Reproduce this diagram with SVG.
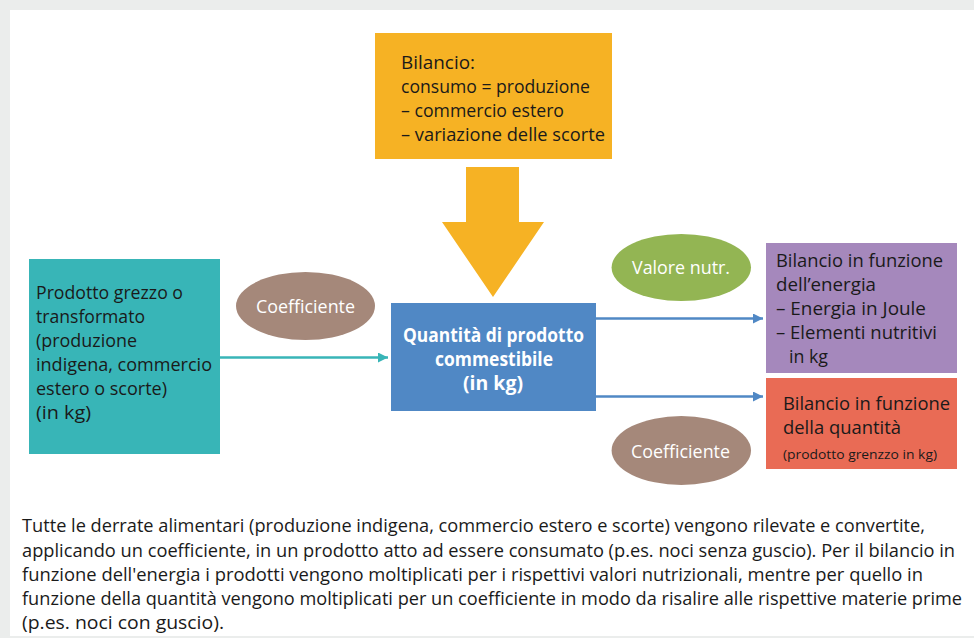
<svg xmlns="http://www.w3.org/2000/svg" width="974" height="638" viewBox="0 0 974 638">
<defs>
<style>
text{font-family:"Open Sans","Noto Sans","Liberation Sans",sans-serif;}
.t{font-size:19px;fill:#1a1a1a;}
.w{font-size:19px;fill:#ffffff;}
.b{font-size:19px;fill:#ffffff;font-weight:bold;}
.s{font-size:13.5px;fill:#1a1a1a;}
.p{font-size:17.5px;fill:#1a1a1a;}
</style>
<marker id="ahT" viewBox="0 0 10 10" refX="10" refY="5" markerWidth="5" markerHeight="4" orient="auto" markerUnits="strokeWidth"><path d="M0,0 L10,5 L0,10 z" fill="#38B5B7"/></marker>
<marker id="ahB" viewBox="0 0 10 10" refX="10" refY="5" markerWidth="5" markerHeight="4" orient="auto" markerUnits="strokeWidth"><path d="M0,0 L10,5 L0,10 z" fill="#5088C5"/></marker>
</defs>
<rect x="0" y="0" width="974" height="638" fill="#EBEDEC"/>
<rect x="10" y="10" width="964" height="626" fill="#ffffff"/>

<g id="connectors">
<line x1="220" y1="357.5" x2="388" y2="357.5" stroke="#38B5B7" stroke-width="2.5" marker-end="url(#ahT)"/>
<line x1="596" y1="318.5" x2="763" y2="318.5" stroke="#5088C5" stroke-width="2.5" marker-end="url(#ahB)"/>
<line x1="596" y1="396.5" x2="763" y2="396.5" stroke="#5088C5" stroke-width="2.5" marker-end="url(#ahB)"/>
<polygon points="466,167 519,167 519,222 544,222 493,297 442,222 466,222" fill="#F6B224"/>
</g>

<g id="bilancio">
<rect x="375" y="33" width="237" height="126" fill="#F6B224"/>
<text class="t" x="401" y="69" textLength="74" lengthAdjust="spacingAndGlyphs">Bilancio:</text>
<text class="t" x="401" y="93" textLength="189" lengthAdjust="spacingAndGlyphs">consumo = produzione</text>
<text class="t" x="401" y="117" textLength="163" lengthAdjust="spacingAndGlyphs">– commercio estero</text>
<text class="t" x="401" y="141" textLength="204" lengthAdjust="spacingAndGlyphs">– variazione delle scorte</text>
</g>

<g id="prodotto">
<rect x="29" y="259" width="191" height="195" fill="#38B5B7"/>
<text class="t" x="36" y="299" textLength="147" lengthAdjust="spacingAndGlyphs">Prodotto grezzo o</text>
<text class="t" x="36" y="323" textLength="109" lengthAdjust="spacingAndGlyphs">transformato</text>
<text class="t" x="36" y="347" textLength="101" lengthAdjust="spacingAndGlyphs">(produzione</text>
<text class="t" x="36" y="371" textLength="176" lengthAdjust="spacingAndGlyphs">indigena, commercio</text>
<text class="t" x="36" y="395" textLength="131" lengthAdjust="spacingAndGlyphs">estero o scorte)</text>
<text class="t" x="36" y="419" textLength="55" lengthAdjust="spacingAndGlyphs">(in kg)</text>
</g>

<g id="coeff1">
<ellipse cx="305.5" cy="306" rx="69.5" ry="34" fill="#A5887A"/>
<text class="w" x="256" y="313" textLength="99" lengthAdjust="spacingAndGlyphs">Coefficiente</text>
</g>

<g id="quantita">
<rect x="391" y="303" width="205" height="108" fill="#5088C5"/>
<text class="b" x="493.5" y="342" text-anchor="middle" textLength="181" lengthAdjust="spacingAndGlyphs">Quantità di prodotto</text>
<text class="b" x="494" y="366" text-anchor="middle" textLength="118" lengthAdjust="spacingAndGlyphs">commestibile</text>
<text class="b" x="493" y="390" text-anchor="middle" textLength="60" lengthAdjust="spacingAndGlyphs">(in kg)</text>
</g>

<g id="valore">
<ellipse cx="681.3" cy="267.5" rx="69.7" ry="33.5" fill="#93B553"/>
<text class="w" x="632" y="274" textLength="98" lengthAdjust="spacingAndGlyphs">Valore nutr.</text>
</g>

<g id="coeff2">
<ellipse cx="681.3" cy="450.5" rx="69.7" ry="34.5" fill="#A5887A"/>
<text class="w" x="631" y="458" textLength="99" lengthAdjust="spacingAndGlyphs">Coefficiente</text>
</g>

<g id="energia">
<rect x="766" y="243" width="191" height="130" fill="#A588BC"/>
<text class="t" x="776" y="267" textLength="167" lengthAdjust="spacingAndGlyphs">Bilancio in funzione</text>
<text class="t" x="776" y="291" textLength="100" lengthAdjust="spacingAndGlyphs">dell’energia</text>
<text class="t" x="776" y="315" textLength="150" lengthAdjust="spacingAndGlyphs">– Energia in Joule</text>
<text class="t" x="776" y="339" textLength="161" lengthAdjust="spacingAndGlyphs">– Elementi nutritivi</text>
<text class="t" x="789" y="363" textLength="39" lengthAdjust="spacingAndGlyphs">in kg</text>
</g>

<g id="quantitaBil">
<rect x="766" y="378" width="191" height="91" fill="#E96B55"/>
<text class="t" x="783" y="410" textLength="167" lengthAdjust="spacingAndGlyphs">Bilancio in funzione</text>
<text class="t" x="783" y="434" textLength="118" lengthAdjust="spacingAndGlyphs">della quantità</text>
<text class="s" x="783" y="459" textLength="154" lengthAdjust="spacingAndGlyphs">(prodotto grenzzo in kg)</text>
</g>

<g id="caption">
<text class="p" x="22" y="532" textLength="903" lengthAdjust="spacingAndGlyphs">Tutte le derrate alimentari (produzione indigena, commercio estero e scorte) vengono rilevate e convertite,</text>
<text class="p" x="22" y="556.5" textLength="933" lengthAdjust="spacingAndGlyphs">applicando un coefficiente, in un prodotto atto ad essere consumato (p.es. noci senza guscio). Per il bilancio in</text>
<text class="p" x="22" y="581" textLength="901" lengthAdjust="spacingAndGlyphs">funzione dell'energia i prodotti vengono moltiplicati per i rispettivi valori nutrizionali, mentre per quello in</text>
<text class="p" x="22" y="605" textLength="940" lengthAdjust="spacingAndGlyphs">funzione della quantità vengono moltiplicati per un coefficiente in modo da risalire alle rispettive materie prime</text>
<text class="p" x="22" y="629" textLength="202" lengthAdjust="spacingAndGlyphs">(p.es. noci con guscio).</text>
</g>
</svg>
